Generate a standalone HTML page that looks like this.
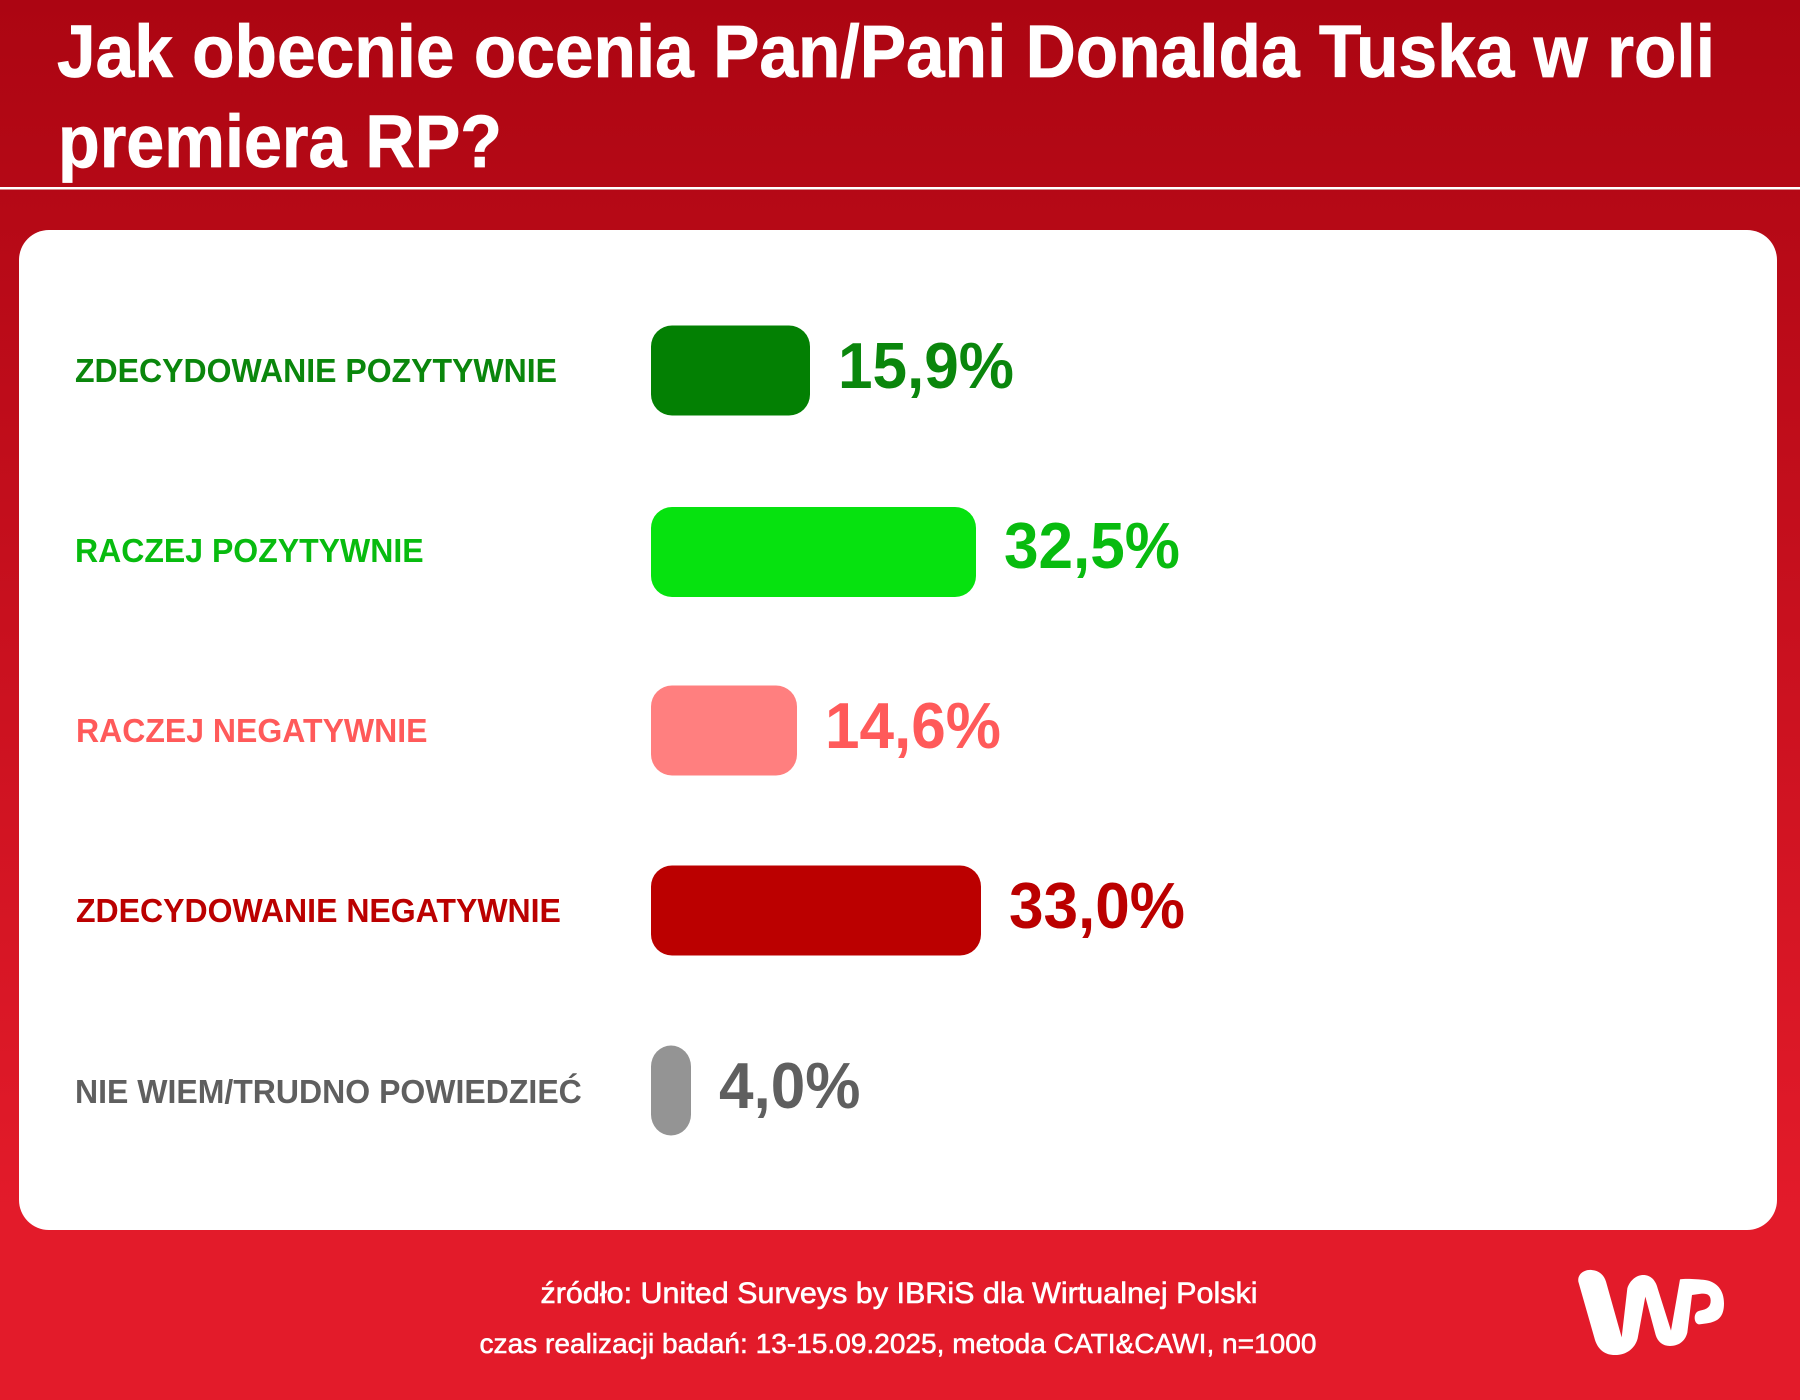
<!DOCTYPE html>
<html lang="pl">
<head>
<meta charset="utf-8">
<title>Jak obecnie ocenia Pan/Pani Donalda Tuska w roli premiera RP?</title>
<style>
html,body{margin:0;padding:0;width:1800px;height:1400px;overflow:hidden;background:#e31b2a;}
svg{display:block;font-family:"Liberation Sans",Arial,sans-serif;}
</style>
</head>
<body>
<svg id="chart" xmlns="http://www.w3.org/2000/svg" width="1800" height="1400" viewBox="0 0 1800 1400">
  <defs>
    <linearGradient id="bgGrad" x1="0" y1="0" x2="0" y2="1">
      <stop offset="0" stop-color="#ac0512"/>
      <stop offset="0.87" stop-color="#e31b2a"/>
      <stop offset="1" stop-color="#e31b2a"/>
    </linearGradient>
  </defs>
  <rect x="0" y="0" width="1800" height="1400" fill="url(#bgGrad)"/>
  <text x="57" y="77" font-size="74" font-weight="700" fill="#ffffff" stroke="#ffffff" stroke-width="0.8" textLength="1658" lengthAdjust="spacingAndGlyphs">Jak obecnie ocenia Pan/Pani Donalda Tuska w roli</text>
  <text x="58" y="167" font-size="74" font-weight="700" fill="#ffffff" stroke="#ffffff" stroke-width="0.8" textLength="444" lengthAdjust="spacingAndGlyphs">premiera RP?</text>
  <rect x="0" y="187" width="1800" height="2.5" fill="#ffffff"/>
  <rect x="19" y="230" width="1758" height="1000" rx="30" ry="30" fill="#ffffff"/>
  <g id="rows"></g>
  <text x="899" y="1303" font-size="30" fill="#ffffff" stroke="#ffffff" stroke-width="0.6" text-anchor="middle" textLength="717" lengthAdjust="spacingAndGlyphs">źródło: United Surveys by IBRiS dla Wirtualnej Polski</text>
  <text x="898" y="1353" font-size="28" fill="#ffffff" stroke="#ffffff" stroke-width="0.55" text-anchor="middle" textLength="837" lengthAdjust="spacingAndGlyphs">czas realizacji badań: 13-15.09.2025, metoda CATI&amp;CAWI, n=1000</text>
  <g transform="translate(1570 1260) scale(0.33333)">
    <path fill="#ffffff" d="M25,65 C22,40 45,28 65,30 C88,32 102,45 108,65 L155,232 L172,85 C180,60 200,45 220,45 C245,45 258,65 263,85 L303,212 L330,58 C350,55 385,58 405,60 C440,65 462,90 462,130 C462,170 445,185 410,190 L388,193 C370,193 368,155 390,152 C412,148 422,140 422,122 C422,104 410,100 395,101 L366,105 L352,218 C345,245 325,258 300,258 C278,258 263,245 257,225 L226,110 L203,235 C195,265 170,285 135,285 C105,285 85,270 75,240 Z"/>
  </g>
</svg>
<script>
const categories = ["ZDECYDOWANIE POZYTYWNIE", "RACZEJ POZYTYWNIE", "RACZEJ NEGATYWNIE", "ZDECYDOWANIE NEGATYWNIE", "NIE WIEM/TRUDNO POWIEDZIEĆ"];
const values = [15.9, 32.5, 14.6, 33.0, 4.0];
const barColors = ["#038003", "#06e20f", "#ff7f7f", "#bb0000", "#949494"];
const textColors = ["#0a860c", "#08bb0f", "#ff5a5a", "#bb0000", "#5f5f5f"];

const BAR_LEFT = 651, UNIT = 10, FIRST_MID = 371, ROW_STEP = 180, BAR_H = 90, RADIUS = 21;
const xScale = v => BAR_LEFT + v * UNIT;
const yScale = i => FIRST_MID + i * ROW_STEP;
const NS = "http://www.w3.org/2000/svg";
const rows = document.getElementById("rows");

function mk(tag, attrs, parent) {
  const el = document.createElementNS(NS, tag);
  Object.keys(attrs).forEach(k => el.setAttribute(k, attrs[k]));
  parent.appendChild(el);
  return el;
}
function squeeze(el, factor) {
  const len = el.getComputedTextLength();
  el.setAttribute("textLength", (len * factor).toFixed(1));
  el.setAttribute("lengthAdjust", "spacingAndGlyphs");
}

categories.forEach((cat, i) => {
  const mid = yScale(i);
  const barTop = mid - BAR_H / 2 - 0.5 + (i === 1 ? 1.5 : 0);
  const w = xScale(values[i]) - xScale(0);

  const label = mk("text", { x: i === 2 || i === 3 ? 76 : 75, y: i === 4 ? mid + 12 : mid + 11, "font-size": 33, "font-weight": 700, fill: textColors[i] }, rows);
  
  
  label.textContent = cat;
  squeeze(label, 0.97);

  const bar = mk("rect", { x: xScale(0), y: barTop, width: w, height: BAR_H, rx: Math.min(RADIUS, w / 2), ry: RADIUS, fill: barColors[i] }, rows);
  
  

  const val = mk("text", { x: xScale(values[i]) + 28, y: mid + 17, "font-size": 65, "font-weight": 700, fill: textColors[i] }, rows);
  
  
  val.textContent = values[i].toFixed(1).replace(".", ",") + "%";
  squeeze(val, 0.955);
});
</script>
</body>
</html>
